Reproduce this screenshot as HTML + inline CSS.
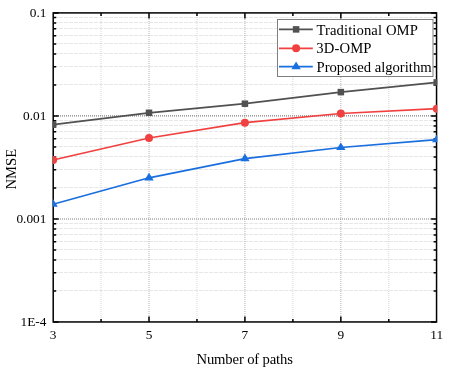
<!DOCTYPE html>
<html><head><meta charset="utf-8"><title>NMSE vs Number of paths</title>
<style>
html,body{margin:0;padding:0;background:#fff;}
svg{display:block;will-change:transform;}
text{font-family:"Liberation Serif",serif;fill:#000;}
</style></head><body>
<svg width="449" height="373" viewBox="0 0 449 373">
<rect x="0" y="0" width="449" height="373" fill="#fff"/>
<defs><clipPath id="c"><rect x="52.7" y="12" width="384.6" height="310.6"/></clipPath></defs>
<g fill="none"><line x1="54" x2="436" y1="290.50" y2="290.50" stroke="#e7e7e7" stroke-width="1" stroke-dasharray="4 1"/>
<line x1="54" x2="436" y1="272.50" y2="272.50" stroke="#e7e7e7" stroke-width="1" stroke-dasharray="4 1"/>
<line x1="54" x2="436" y1="259.50" y2="259.50" stroke="#e7e7e7" stroke-width="1" stroke-dasharray="4 1"/>
<line x1="54" x2="436" y1="249.50" y2="249.50" stroke="#e7e7e7" stroke-width="1" stroke-dasharray="4 1"/>
<line x1="54" x2="436" y1="241.50" y2="241.50" stroke="#e7e7e7" stroke-width="1" stroke-dasharray="4 1"/>
<line x1="54" x2="436" y1="234.50" y2="234.50" stroke="#e7e7e7" stroke-width="1" stroke-dasharray="4 1"/>
<line x1="54" x2="436" y1="228.50" y2="228.50" stroke="#e7e7e7" stroke-width="1" stroke-dasharray="4 1"/>
<line x1="54" x2="436" y1="223.50" y2="223.50" stroke="#e7e7e7" stroke-width="1" stroke-dasharray="4 1"/>
<line x1="54" x2="436" y1="187.50" y2="187.50" stroke="#e7e7e7" stroke-width="1" stroke-dasharray="4 1"/>
<line x1="54" x2="436" y1="169.50" y2="169.50" stroke="#e7e7e7" stroke-width="1" stroke-dasharray="4 1"/>
<line x1="54" x2="436" y1="156.50" y2="156.50" stroke="#e7e7e7" stroke-width="1" stroke-dasharray="4 1"/>
<line x1="54" x2="436" y1="146.50" y2="146.50" stroke="#e7e7e7" stroke-width="1" stroke-dasharray="4 1"/>
<line x1="54" x2="436" y1="138.50" y2="138.50" stroke="#e7e7e7" stroke-width="1" stroke-dasharray="4 1"/>
<line x1="54" x2="436" y1="131.50" y2="131.50" stroke="#e7e7e7" stroke-width="1" stroke-dasharray="4 1"/>
<line x1="54" x2="436" y1="125.50" y2="125.50" stroke="#e7e7e7" stroke-width="1" stroke-dasharray="4 1"/>
<line x1="54" x2="436" y1="120.50" y2="120.50" stroke="#e7e7e7" stroke-width="1" stroke-dasharray="4 1"/>
<line x1="54" x2="436" y1="84.50" y2="84.50" stroke="#e7e7e7" stroke-width="1" stroke-dasharray="4 1"/>
<line x1="54" x2="436" y1="66.50" y2="66.50" stroke="#e7e7e7" stroke-width="1" stroke-dasharray="4 1"/>
<line x1="54" x2="436" y1="53.50" y2="53.50" stroke="#e7e7e7" stroke-width="1" stroke-dasharray="4 1"/>
<line x1="54" x2="436" y1="43.50" y2="43.50" stroke="#e7e7e7" stroke-width="1" stroke-dasharray="4 1"/>
<line x1="54" x2="436" y1="35.50" y2="35.50" stroke="#e7e7e7" stroke-width="1" stroke-dasharray="4 1"/>
<line x1="54" x2="436" y1="28.50" y2="28.50" stroke="#e7e7e7" stroke-width="1" stroke-dasharray="4 1"/>
<line x1="54" x2="436" y1="22.50" y2="22.50" stroke="#e7e7e7" stroke-width="1" stroke-dasharray="4 1"/>
<line x1="54" x2="436" y1="17.50" y2="17.50" stroke="#e7e7e7" stroke-width="1" stroke-dasharray="4 1"/>
<line x1="101.06" x2="101.06" y1="13" y2="322" stroke="#d8d8d8" stroke-width="1" stroke-dasharray="1 1"/>
<line x1="149.01" x2="149.01" y1="13" y2="322" stroke="#b4b4b4" stroke-width="1" stroke-dasharray="1 1"/>
<line x1="196.97" x2="196.97" y1="13" y2="322" stroke="#d8d8d8" stroke-width="1" stroke-dasharray="1 1"/>
<line x1="244.92" x2="244.92" y1="13" y2="322" stroke="#b4b4b4" stroke-width="1" stroke-dasharray="1 1"/>
<line x1="292.88" x2="292.88" y1="13" y2="322" stroke="#d8d8d8" stroke-width="1" stroke-dasharray="1 1"/>
<line x1="340.84" x2="340.84" y1="13" y2="322" stroke="#b4b4b4" stroke-width="1" stroke-dasharray="1 1"/>
<line x1="388.79" x2="388.79" y1="13" y2="322" stroke="#d8d8d8" stroke-width="1" stroke-dasharray="1 1"/>
<line x1="54" x2="436" y1="115.92" y2="115.92" stroke="#808080" stroke-width="1.1" stroke-dasharray="1 1"/>
<line x1="54" x2="436" y1="218.93" y2="218.93" stroke="#808080" stroke-width="1.1" stroke-dasharray="1 1"/></g>
<path d="M101.06 321.95v-3.0M101.06 12.90v3.0M149.01 321.95v-5.5M149.01 12.90v5.5M196.97 321.95v-3.0M196.97 12.90v3.0M244.92 321.95v-5.5M244.92 12.90v5.5M292.88 321.95v-3.0M292.88 12.90v3.0M340.84 321.95v-5.5M340.84 12.90v5.5M388.79 321.95v-3.0M388.79 12.90v3.0M53.20 321.95h5.5M436.55 321.95h-5.5M53.20 290.94h3.0M436.55 290.94h-3.0M53.20 272.80h3.0M436.55 272.80h-3.0M53.20 259.93h3.0M436.55 259.93h-3.0M53.20 249.94h3.0M436.55 249.94h-3.0M53.20 241.79h3.0M436.55 241.79h-3.0M53.20 234.89h3.0M436.55 234.89h-3.0M53.20 228.92h3.0M436.55 228.92h-3.0M53.20 223.65h3.0M436.55 223.65h-3.0M53.20 218.93h5.5M436.55 218.93h-5.5M53.20 187.92h3.0M436.55 187.92h-3.0M53.20 169.78h3.0M436.55 169.78h-3.0M53.20 156.91h3.0M436.55 156.91h-3.0M53.20 146.93h3.0M436.55 146.93h-3.0M53.20 138.77h3.0M436.55 138.77h-3.0M53.20 131.87h3.0M436.55 131.87h-3.0M53.20 125.90h3.0M436.55 125.90h-3.0M53.20 120.63h3.0M436.55 120.63h-3.0M53.20 115.92h5.5M436.55 115.92h-5.5M53.20 84.91h3.0M436.55 84.91h-3.0M53.20 66.77h3.0M436.55 66.77h-3.0M53.20 53.89h3.0M436.55 53.89h-3.0M53.20 43.91h3.0M436.55 43.91h-3.0M53.20 35.75h3.0M436.55 35.75h-3.0M53.20 28.86h3.0M436.55 28.86h-3.0M53.20 22.88h3.0M436.55 22.88h-3.0M53.20 17.61h3.0M436.55 17.61h-3.0M53.20 12.90h5.5M436.55 12.90h-5.5" stroke="#000" stroke-width="1.5" fill="none"/>
<rect x="53.20" y="12.90" width="383.35" height="309.05" fill="none" stroke="#000" stroke-width="1.5"/>
<g clip-path="url(#c)"><polyline points="53.10,124.70 149.01,112.80 244.92,103.70 340.84,92.10 436.75,82.40" fill="none" stroke="#515151" stroke-width="1.7" stroke-linejoin="round"/>
<rect x="49.85" y="121.45" width="6.5" height="6.5" fill="#515151"/>
<rect x="145.76" y="109.55" width="6.5" height="6.5" fill="#515151"/>
<rect x="241.67" y="100.45" width="6.5" height="6.5" fill="#515151"/>
<rect x="337.59" y="88.85" width="6.5" height="6.5" fill="#515151"/>
<rect x="433.50" y="79.15" width="6.5" height="6.5" fill="#515151"/>
<polyline points="53.10,160.00 149.01,138.00 244.92,122.70 340.84,113.50 436.75,108.70" fill="none" stroke="#F14040" stroke-width="1.7" stroke-linejoin="round"/>
<circle cx="53.10" cy="160.00" r="4.0" fill="#F14040"/>
<circle cx="149.01" cy="138.00" r="4.0" fill="#F14040"/>
<circle cx="244.92" cy="122.70" r="4.0" fill="#F14040"/>
<circle cx="340.84" cy="113.50" r="4.0" fill="#F14040"/>
<circle cx="436.75" cy="108.70" r="4.0" fill="#F14040"/>
<polyline points="53.10,204.20 149.01,177.80 244.92,158.60 340.84,147.50 436.75,139.60" fill="none" stroke="#1A6FDF" stroke-width="1.7" stroke-linejoin="round"/>
<path d="M53.10 199.10L57.80 206.80L48.40 206.80Z" fill="#1A6FDF"/>
<path d="M149.01 172.70L153.71 180.40L144.31 180.40Z" fill="#1A6FDF"/>
<path d="M244.92 153.50L249.62 161.20L240.22 161.20Z" fill="#1A6FDF"/>
<path d="M340.84 142.40L345.54 150.10L336.14 150.10Z" fill="#1A6FDF"/>
<path d="M436.75 134.50L441.45 142.20L432.05 142.20Z" fill="#1A6FDF"/></g>
<rect x="277.5" y="19.5" width="155.5" height="57" fill="#fff" stroke="#7f7f7f" stroke-width="1"/>
<line x1="279" x2="312.8" y1="29.4" y2="29.4" stroke="#515151" stroke-width="1.7"/><rect x="292.85" y="26.15" width="6.5" height="6.5" fill="#515151"/><text x="316.4" y="35.30" font-size="14.67" textLength="101.5" lengthAdjust="spacing">Traditional OMP</text>
<line x1="279" x2="312.8" y1="48.3" y2="48.3" stroke="#F14040" stroke-width="1.7"/><circle cx="296.10" cy="48.30" r="4.0" fill="#F14040"/><text x="316.3" y="53.40" font-size="14.67" textLength="55.2" lengthAdjust="spacing">3D-OMP</text>
<line x1="279" x2="312.8" y1="66.7" y2="66.7" stroke="#1A6FDF" stroke-width="1.7"/><path d="M296.10 61.60L300.80 69.30L291.40 69.30Z" fill="#1A6FDF"/><text x="316.5" y="71.70" font-size="14.67" textLength="115.1" lengthAdjust="spacing">Proposed algorithm</text>
<text x="53.10" y="338.6" font-size="13.33" text-anchor="middle">3</text><text x="149.01" y="338.6" font-size="13.33" text-anchor="middle">5</text><text x="244.92" y="338.6" font-size="13.33" text-anchor="middle">7</text><text x="340.84" y="338.6" font-size="13.33" text-anchor="middle">9</text><text x="436.75" y="338.6" font-size="13.33" text-anchor="middle">11</text><text x="46.4" y="17.30" font-size="13.33" text-anchor="end">0.1</text><text x="46.4" y="120.32" font-size="13.33" text-anchor="end">0.01</text><text x="46.4" y="223.33" font-size="13.33" text-anchor="end">0.001</text><text x="46.4" y="326.35" font-size="13.33" text-anchor="end">1E-4</text>
<text x="244.7" y="364" font-size="14.67" text-anchor="middle" textLength="96.4" lengthAdjust="spacing">Number of paths</text>
<text transform="translate(15.9 169.2) rotate(-90)" font-size="14.67" text-anchor="middle">NMSE</text>
</svg></body></html>
